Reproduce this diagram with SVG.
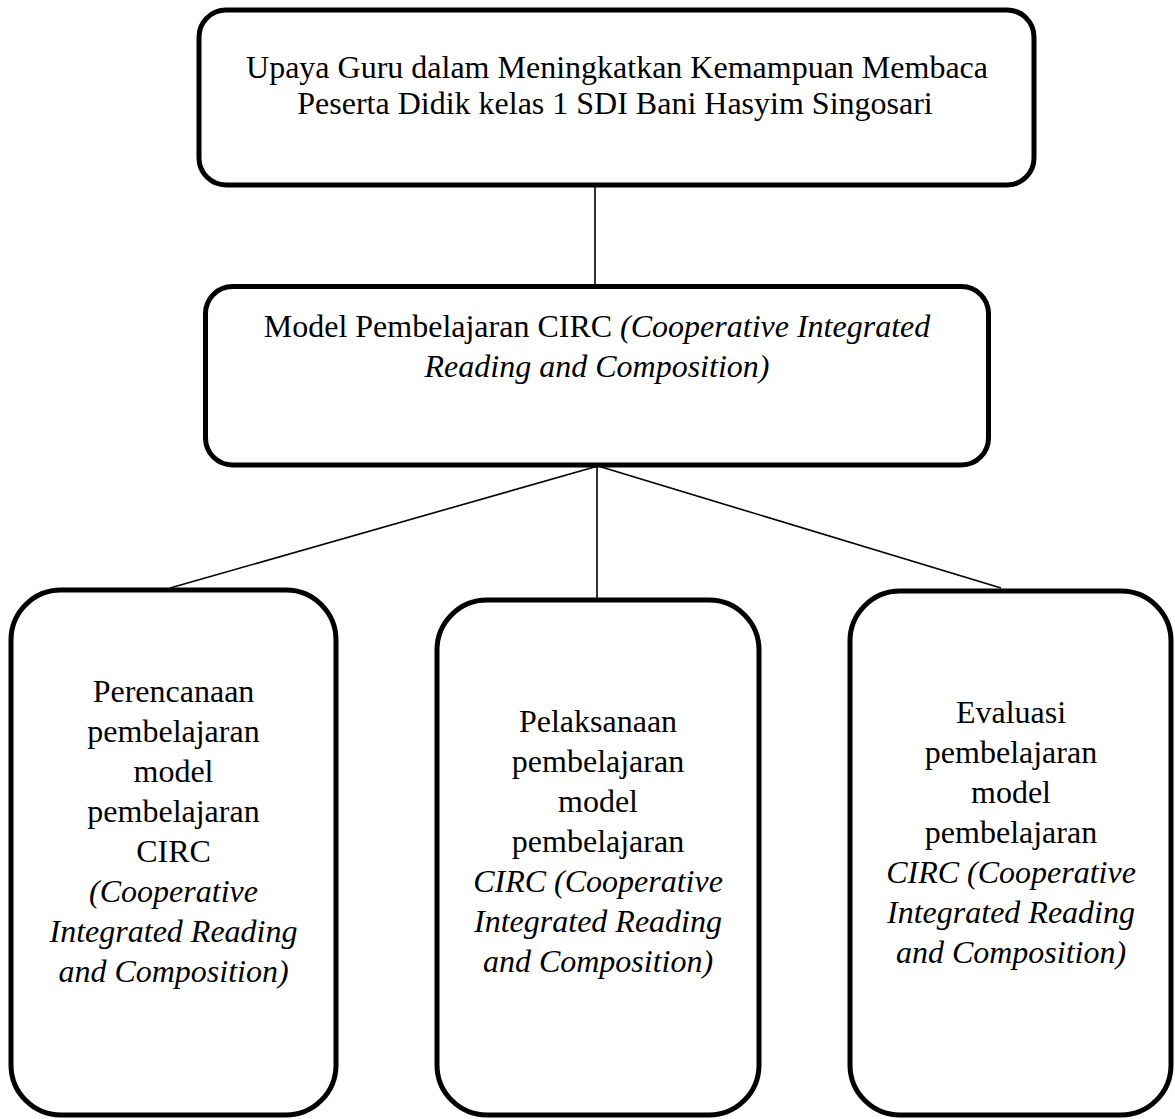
<svg xmlns="http://www.w3.org/2000/svg" width="1175" height="1119" viewBox="0 0 1175 1119">
<style>
.box{fill:#fff;stroke:#000;stroke-width:5}
.t{font-family:"Liberation Serif","Times New Roman",serif;font-size:32px;fill:#000;text-anchor:middle}
.i{font-style:italic}
.c{stroke:#000;stroke-width:1.6;fill:none}
</style>
<rect width="1175" height="1119" fill="#fff"/>
<g id="connectors">
<line class="c" x1="595" y1="185" x2="595" y2="287"/>
<line class="c" x1="598" y1="466" x2="170" y2="588"/>
<line class="c" x1="597" y1="466" x2="597" y2="600"/>
<line class="c" x1="598" y1="466" x2="1001" y2="588"/>
</g>
<g id="node-top">
<rect class="box" x="199" y="10" width="835" height="175" rx="27"/>
<text class="t" x="617" y="78">Upaya Guru dalam Meningkatkan Kemampuan Membaca</text>
<text class="t" x="615" y="114">Peserta Didik kelas 1 SDI Bani Hasyim Singosari</text>
</g>
<g id="node-model">
<rect class="box" x="205.5" y="286.5" width="783" height="178.5" rx="27"/>
<text class="t" x="597" y="337">Model Pembelajaran CIRC <tspan class="i">(Cooperative Integrated</tspan></text>
<text class="t i" x="597" y="377">Reading and Composition)</text>
</g>
<g id="node-perencanaan">
<rect class="box" x="11" y="590" width="325" height="525" rx="50"/>
<text class="t" x="173.5" y="702">Perencanaan</text>
<text class="t" x="173.5" y="742">pembelajaran</text>
<text class="t" x="173.5" y="782">model</text>
<text class="t" x="173.5" y="822">pembelajaran</text>
<text class="t" x="173.5" y="862">CIRC</text>
<text class="t i" x="173.5" y="902">(Cooperative</text>
<text class="t i" x="173.5" y="942">Integrated Reading</text>
<text class="t i" x="173.5" y="982">and Composition)</text>
</g>
<g id="node-pelaksanaan">
<rect class="box" x="437" y="600" width="322" height="515" rx="50"/>
<text class="t" x="598" y="732">Pelaksanaan</text>
<text class="t" x="598" y="772">pembelajaran</text>
<text class="t" x="598" y="812">model</text>
<text class="t" x="598" y="852">pembelajaran</text>
<text class="t i" x="598" y="892">CIRC (Cooperative</text>
<text class="t i" x="598" y="932">Integrated Reading</text>
<text class="t i" x="598" y="972">and Composition)</text>
</g>
<g id="node-evaluasi">
<rect class="box" x="850" y="591" width="321" height="524" rx="50"/>
<text class="t" x="1011" y="723">Evaluasi</text>
<text class="t" x="1011" y="763">pembelajaran</text>
<text class="t" x="1011" y="803">model</text>
<text class="t" x="1011" y="843">pembelajaran</text>
<text class="t i" x="1011" y="883">CIRC (Cooperative</text>
<text class="t i" x="1011" y="923">Integrated Reading</text>
<text class="t i" x="1011" y="963">and Composition)</text>
</g>
</svg>
